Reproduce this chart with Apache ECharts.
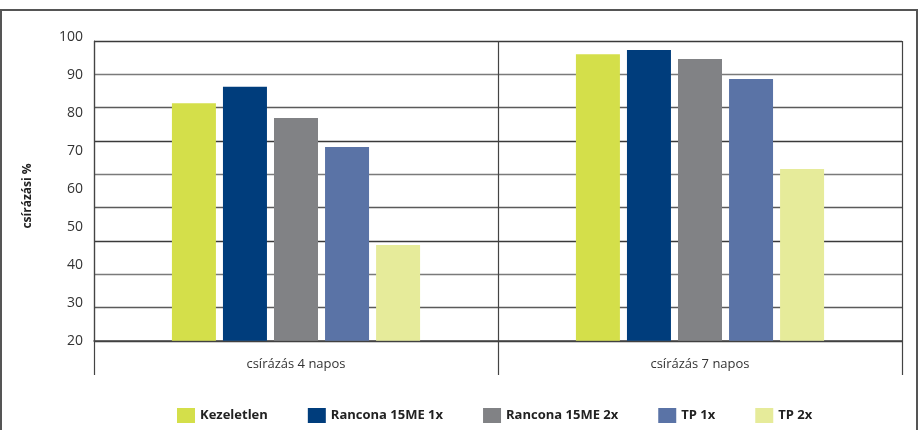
<!DOCTYPE html>
<html>
<head>
<meta charset="utf-8">
<script src="https://cdn.jsdelivr.net/npm/echarts@6/dist/echarts.min.js"></script>
<style>
html,body{margin:0;padding:0;background:#fff;}
#c{width:918px;height:430px;}
</style>
</head>
<body>
<div id="c"></div>
<script>
const categories = ['csírázás 4 napos', 'csírázás 7 napos'];
const seriesNames = ['Kezeletlen', 'Rancona 15ME 1x', 'Rancona 15ME 2x', 'TP 1x', 'TP 2x'];
const kezeletlen = [82.5, 95.4];
const rancona1x = [86.8, 96.5];
const rancona2x = [78.6, 94.1];
const tp1x = [71.0, 88.9];
const tp2x = [45.2, 65.2];
const yTicks = [20, 30, 40, 50, 60, 70, 80, 90, 100];
const yTitle = 'csírázási %';

const colors = ['#D4DF4A', '#003D7C', '#818285', '#5A73A6', '#E6EB9A'];
const values = [kezeletlen, rancona1x, rancona2x, tp1x, tp2x];
const FONT = 'Open Sans';

const chart = echarts.init(document.getElementById('c'), null, {renderer: 'canvas'});
chart.setOption({
  animation: false,
  backgroundColor: '#fff',
  textStyle: {fontFamily: FONT},
  grid: [
    {left: 94, right: 16, top: 36.7, bottom: 89.3},
    {left: 94, right: 16, top: 41, bottom: 89}
  ],
  xAxis: [
    {type: 'category', gridIndex: 0, data: categories, show: false},
    {type: 'category', gridIndex: 1, data: categories,
     axisLine: {show: true, lineStyle: {color: '#444', width: 1.5}},
     axisTick: {show: true, length: 34, lineStyle: {color: '#444', width: 1.2}},
     axisLabel: {color: '#333', fontSize: 13, fontFamily: FONT, margin: 17},
     splitLine: {show: true, lineStyle: {color: '#444', width: 1.2}}}
  ],
  yAxis: [
    {type: 'value', gridIndex: 0, min: yTicks[0], max: yTicks[yTicks.length - 1], interval: 10,
     axisLine: {show: false}, axisTick: {show: false}, splitLine: {show: false},
     axisLabel: {color: '#333', fontSize: 14, fontFamily: FONT, margin: 11}},
    {type: 'value', gridIndex: 1, min: 0, max: 9, interval: 1,
     axisLine: {show: true, lineStyle: {color: '#444', width: 1.2}}, axisTick: {show: false},
     axisLabel: {show: false},
     splitLine: {show: true, lineStyle: {color: ['#3a3a3a', '#5a5a5a', '#7a7a7a'], width: 1.3}}}
  ],
  legend: {
    left: 172, top: 403, itemWidth: 18, itemHeight: 15, itemGap: 40,
    icon: 'rect',
    textStyle: {color: '#222', fontSize: 13, fontWeight: 'bold', fontFamily: FONT},
    data: seriesNames
  },
  series: seriesNames.map((n, i) => ({
    name: n, type: 'bar', xAxisIndex: 0, yAxisIndex: 0,
    data: values[i], barWidth: 44, barGap: '16%',
    itemStyle: {color: colors[i]}
  })),
  graphic: [
    {type: 'rect', shape: {x: 1, y: 10, width: 916, height: 440},
     style: {fill: 'none', stroke: '#555', lineWidth: 2}, z: 100},
    {type: 'text', x: 28, y: 196, rotation: Math.PI / 2,
     style: {text: yTitle, fill: '#222', font: 'bold 12px "' + FONT + '"', align: 'center', verticalAlign: 'middle'}}
  ]
});
</script>
</body>
</html>
